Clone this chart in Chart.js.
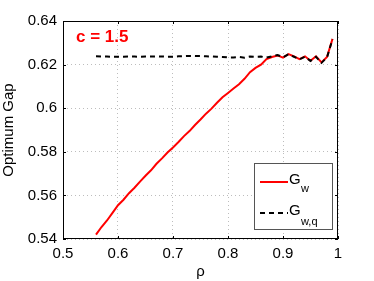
<!DOCTYPE html>
<html>
<head>
<meta charset="utf-8">
<script src="https://cdn.jsdelivr.net/npm/chart.js@4.4.1/dist/chart.umd.min.js"></script>
<style>
  html, body { margin:0; padding:0; background:#fff; }
  #wrap { width:374px; height:281px; }
</style>
</head>
<body>
<div id="wrap"><canvas id="chart" width="374" height="281"></canvas></div>
<script>
// rho values (x axis)
const rho = [0.56,0.57,0.58,0.59,0.60,0.61,0.62,0.63,0.64,0.65,0.66,0.67,0.68,0.69,0.70,
  0.71,0.72,0.73,0.74,0.75,0.76,0.77,0.78,0.79,0.80,0.81,0.82,0.83,0.84,0.85,
  0.86,0.87,0.88,0.89,0.90,0.91,0.92,0.93,0.94,0.95,0.96,0.97,0.98,0.99];

// G_w (red, solid)
const gW = [0.542,0.5455,0.5485,0.552,0.5555,0.558,0.561,0.5635,0.5663,0.569,0.5715,0.5745,0.577,0.5797,0.582,
  0.5845,0.5872,0.5895,0.5923,0.5948,0.5975,0.5998,0.6025,0.605,0.607,0.609,0.611,0.6135,0.6165,0.6185,
  0.620,0.6225,0.6235,0.6242,0.6232,0.6248,0.6238,0.6225,0.6238,0.6218,0.6238,0.621,0.6235,0.6318];

// G_w,q (black, dashed)
const gWq = [0.6238,0.6237,0.6237,0.6236,0.6236,0.6236,0.6237,0.6237,0.6236,0.6237,0.6237,0.6238,0.6237,0.6236,0.6236,
  0.6238,0.6239,0.6240,0.6239,0.6239,0.6238,0.6237,0.6236,0.6235,0.6233,0.6233,0.6235,0.6232,0.6237,0.6236,
  0.6237,0.6232,0.6238,0.6244,0.6234,0.6247,0.6236,0.6224,0.6236,0.6217,0.6236,0.6208,0.6233,0.6316];

const yTicks = [0.54,0.56,0.58,0.6,0.62,0.64];
const xTicks = [0.5,0.6,0.7,0.8,0.9,1];
const FONT = 'Liberation Sans, Arial, Helvetica, sans-serif';

Chart.defaults.font.family = FONT;
Chart.defaults.color = '#000';

const toXY = ys => rho.map((x, i) => ({ x, y: ys[i] }));

// frame, inner ticks, annotation and legend
const decor = {
  id: 'decor',
  afterDatasetsDraw(chart) {
    const { ctx, chartArea: a, scales: { x, y } } = chart;
    ctx.save();
    ctx.strokeStyle = '#000';
    ctx.lineWidth = 1;
    ctx.setLineDash([]);
    ctx.strokeRect(a.left + 0.5, a.top + 0.5, a.right - a.left - 1, a.bottom - a.top - 1);
    ctx.beginPath();
    xTicks.forEach(v => {
      const px = Math.round(x.getPixelForValue(v)) + 0.5;
      ctx.moveTo(px, a.bottom); ctx.lineTo(px, a.bottom - 3);
      ctx.moveTo(px, a.top); ctx.lineTo(px, a.top + 3);
    });
    yTicks.forEach(v => {
      const py = Math.round(y.getPixelForValue(v)) + 0.5;
      ctx.moveTo(a.left, py); ctx.lineTo(a.left + 3, py);
      ctx.moveTo(a.right, py); ctx.lineTo(a.right - 3, py);
    });
    ctx.stroke();

    // c = 1.5
    ctx.fillStyle = '#ff0000';
    ctx.font = 'bold 17px ' + FONT;
    ctx.textBaseline = 'alphabetic';
    ctx.fillText('c = 1.5', 76, 42);

    // legend box
    const bx = 254, by = 163, bw = 78, bh = 66;
    ctx.fillStyle = '#fff';
    ctx.fillRect(bx, by, bw, bh);
    ctx.strokeStyle = '#555';
    ctx.strokeRect(bx + 0.5, by + 0.5, bw, bh);

    ctx.lineWidth = 2;
    ctx.strokeStyle = '#ff0000';
    ctx.beginPath(); ctx.moveTo(260, 182); ctx.lineTo(288, 182); ctx.stroke();
    ctx.strokeStyle = '#000';
    ctx.setLineDash([5, 4]);
    ctx.beginPath(); ctx.moveTo(260, 213); ctx.lineTo(288, 213); ctx.stroke();
    ctx.setLineDash([]);

    ctx.fillStyle = '#000';
    ctx.font = '15px ' + FONT;
    ctx.fillText('G', 289, 184);
    ctx.fillText('G', 289, 215);
    ctx.font = '11px ' + FONT;
    ctx.fillText('w', 301, 192);
    ctx.fillText('w,q', 301, 225);
    ctx.restore();
  }
};

new Chart(document.getElementById('chart'), {
  type: 'line',
  data: {
    datasets: [
      { label: 'G_w,q', data: toXY(gWq), borderColor: '#000', borderWidth: 2,
        borderDash: [5, 4], pointRadius: 0, tension: 0, fill: false },
      { label: 'G_w', data: toXY(gW), borderColor: '#ff0000', borderWidth: 2,
        pointRadius: 0, tension: 0, fill: false }
    ]
  },
  plugins: [decor],
  options: {
    responsive: false, animation: false,
    layout: { padding: { top: 21, right: 36, left: 0, bottom: 0 } },
    plugins: { legend: { display: false }, tooltip: { enabled: false } },
    scales: {
      x: {
        type: 'linear', min: 0.5, max: 1,
        afterBuildTicks: s => { s.ticks = xTicks.map(v => ({ value: v })); },
        afterFit: s => { s.height = 42; },
        grid: { color: '#bdbdbd', tickLength: 0, drawTicks: false },
        border: { display: false, dash: [1, 3] },
        ticks: { font: { size: 15 }, padding: 6, maxRotation: 0, callback: v => String(+v.toFixed(2)) },
        title: { display: true, text: 'ρ', font: { size: 15 }, padding: { top: 0, bottom: 0 } }
      },
      y: {
        min: 0.54, max: 0.64,
        afterBuildTicks: s => { s.ticks = yTicks.map(v => ({ value: v })); },
        afterFit: s => { s.width = 63; },
        grid: { color: '#bdbdbd', tickLength: 0, drawTicks: false },
        border: { display: false, dash: [1, 3] },
        ticks: { font: { size: 15 }, padding: 6, callback: v => String(+v.toFixed(2)) },
        title: { display: true, text: 'Optimum Gap', font: { size: 15 }, padding: { top: 0, bottom: 4 } }
      }
    }
  }
});
</script>
</body>
</html>
